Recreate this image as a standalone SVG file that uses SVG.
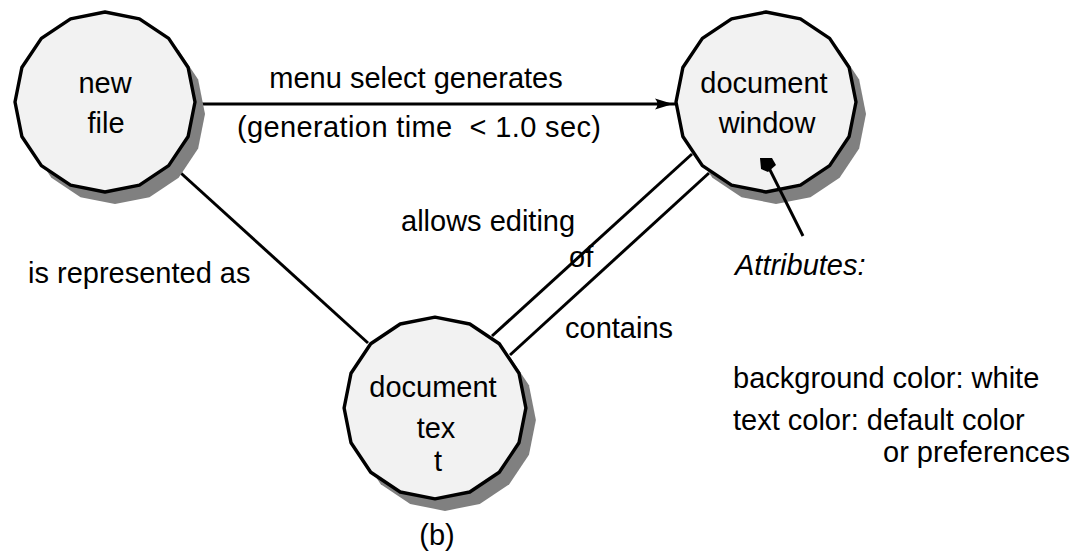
<svg xmlns="http://www.w3.org/2000/svg" xmlns:xlink="http://www.w3.org/1999/xlink" width="1084" height="552" viewBox="0 0 1084 552">
  <style>
    text { font-family: "Liberation Sans", Arial, sans-serif; font-size: 29px; fill: #000; }
    .mid { text-anchor: middle; }
    .ital { font-style: italic; }
    .node { fill: #f2f2f2; stroke: #000; stroke-width: 3.4; stroke-linejoin: round; }
    .shadow { fill: #808080; stroke: none; }
    .conn { fill: none; stroke: #000; stroke-width: 3; }
  </style>
  <defs>
    <!-- 16-sided bubble, centred on the origin -->
    <polygon id="bubble" points="90,0 83.15,34.44 63.64,63.64 34.44,83.15 0,90 -34.44,83.15 -63.64,63.64 -83.15,34.44 -90,0 -83.15,-34.44 -63.64,-63.64 -34.44,-83.15 0,-90 34.44,-83.15 63.64,-63.64 83.15,-34.44"/>
    <marker id="arrow" markerUnits="userSpaceOnUse" markerWidth="24" markerHeight="14" refX="22" refY="7" orient="auto">
      <path d="M0,1.5 L18,7 L0,12.5 Q5,7 0,1.5 Z" fill="#000"/>
    </marker>
  </defs>

  <rect width="1084" height="552" fill="#fff"/>

  <!-- connectors -->
  <g id="connectors">
    <path class="conn" d="M193,104 H677" marker-end="url(#arrow)"/>
    <path class="conn" d="M172,165 L368,343"/>
    <path class="conn" d="M492,336 L692,154"/>
    <path class="conn" d="M510,355 L709,173"/>
  </g>

  <!-- new file -->
  <g id="node-new-file">
    <use xlink:href="#bubble" class="shadow" transform="translate(115,114)"/>
    <use xlink:href="#bubble" class="node" transform="translate(105,102)"/>
    <text class="mid" x="105" y="93">new</text>
    <text class="mid" x="106" y="133">file</text>
  </g>

  <!-- document window -->
  <g id="node-document-window">
    <use xlink:href="#bubble" class="shadow" transform="translate(776,114)"/>
    <use xlink:href="#bubble" class="node" transform="translate(766,102)"/>
    <text class="mid" x="764" y="93">document</text>
    <text class="mid" x="767" y="133">window</text>
  </g>

  <!-- document text -->
  <g id="node-document-text">
    <use xlink:href="#bubble" class="shadow" transform="translate(445,420) scale(1.01)"/>
    <use xlink:href="#bubble" class="node" transform="translate(435,408) scale(1.01)"/>
    <text class="mid" x="433" y="397">document</text>
    <text class="mid" x="436" y="438">tex</text>
    <text class="mid" x="438" y="471">t</text>
  </g>

  <!-- connector labels -->
  <g id="labels">
    <text class="mid" x="416" y="88">menu select generates</text>
    <text class="mid" x="419" y="137" xml:space="preserve" textLength="364" lengthAdjust="spacing">(generation time  &lt; 1.0 sec)</text>
    <text x="28" y="283">is represented as</text>
    <text x="401" y="231">allows editing</text>
    <text x="569" y="267">of</text>
    <text x="565" y="338">contains</text>
  </g>

  <!-- attribute note -->
  <g id="attributes">
    <polygon points="760,158 772,158 776,165 768,172 761,169" fill="#000"/>
    <path class="conn" d="M768,166 L803,236"/>
    <text class="ital" x="735" y="275">Attributes:</text>
    <text x="733" y="388">background color: white</text>
    <text x="733" y="430">text color: default color</text>
    <text x="883" y="462">or preferences</text>
  </g>

  <text class="mid" x="437" y="545">(b)</text>
</svg>
